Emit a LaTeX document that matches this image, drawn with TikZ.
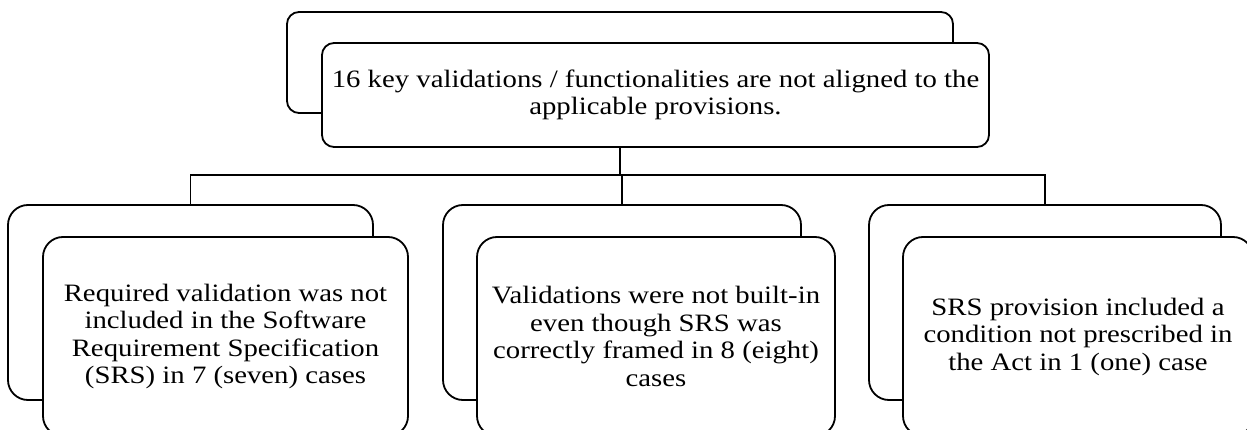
\documentclass[tikz,border=0pt]{standalone}
\usepackage{fontspec}
\setmainfont[FakeStretch=1.15]{Liberation Serif}
\begin{document}
\begin{tikzpicture}[x=1pt,y=-1pt,
  box/.style={draw=black,line width=1.8pt,fill=white,rectangle,inner sep=0pt},
  topbox/.style={box,rounded corners=12pt},
  lowbox/.style={box,rounded corners=20pt},
  txt/.style={align=center,font=\fontsize{25}{27.5}\selectfont},
  conn/.style={draw=black,line width=1.8pt}]
\useasboundingbox (0,0) rectangle (1247,430);
\clip (0,0) rectangle (1247,430);
% back boxes (positions)
\node[topbox,minimum width=666pt,minimum height=101pt] (tb) at (620,62.5) {};
\node[lowbox,minimum width=365pt,minimum height=195pt] (lb) at (190.5,302.5) {};
\node[lowbox,minimum width=358pt,minimum height=195pt] (mb) at (622,302.5) {};
\node[lowbox,minimum width=352pt,minimum height=195pt] (rb) at (1045,302.5) {};
% connectors
\coordinate (bar) at (620,175);
\draw[conn] (tb.south) -- (bar);
\draw[conn] (bar) -| (lb.north);
\draw[conn] (bar) -| (mb.north);
\draw[conn] (bar) -| (rb.north);
% front boxes
\node[topbox,minimum width=667pt,minimum height=104pt,txt] (tf) at (655.5,95)
  {16 key validations / functionalities are not aligned to the\\applicable provisions.};
\node[lowbox,minimum width=365pt,minimum height=199pt,txt] (lf) at (225.5,336.5)
  {Required validation was not\\included in the Software\\Requirement Specification\\(SRS) in 7 (seven) cases};
\node[lowbox,minimum width=358pt,minimum height=199pt,txt] (mf) at (656,336.5)
  {Validations were not built-in\\even though SRS was\\correctly framed in 8 (eight)\\cases};
\node[lowbox,minimum width=350pt,minimum height=199pt,txt] (rf) at (1078,336.5)
  {SRS provision included a\\condition not prescribed in\\the Act in 1 (one) case};
\end{tikzpicture}
\end{document}
